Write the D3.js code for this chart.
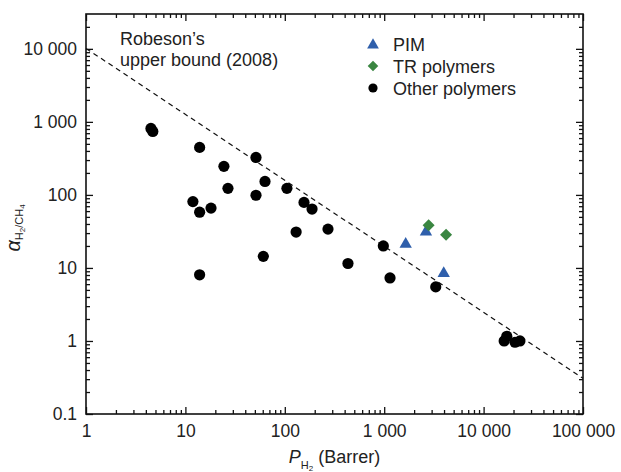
<!DOCTYPE html>
<html>
<head>
<meta charset="utf-8">
<script src="https://cdn.jsdelivr.net/npm/d3@7"></script>
<style>
  body { margin: 0; background: #fff; }
  text { font-family: "Liberation Sans", Arial, sans-serif; fill: #222; }
</style>
</head>
<body>
<div id="chart"></div>
<script>
// H2 permeability (Barrer) and H2/CH4 selectivity
const otherP = [4.5, 4.7, 13.9, 24.4, 26.8, 11.9, 13.9, 18.1, 51.3, 51.3, 63.2, 105, 156, 188, 130,
  13.9, 60.8, 272, 432, 980, 1144, 3300, 16100, 17100, 20700, 23200]
const otherA = [813, 740, 447, 246, 123, 81, 58, 66, 326, 99, 153, 123, 79, 64, 31,
  8.05, 14.4, 34, 11.5, 20, 7.3, 5.5, 1.0, 1.16, 0.96, 1.0]
const pimP = [1645, 2630, 3970]
const pimA = [21.8, 32.1, 8.7]
const trP = [2800, 4190]
const trA = [38.4, 28.5]

// Robeson 2008 H2/CH4 upper bound: P = k * alpha^n
const robK = 27200
const robN = -1.107
const boundP = [1, 100000]

const xTicks = [1, 10, 100, 1000, 10000, 100000]
const xTickLabels = ['1', '10', '100', '1 000', '10 000', '100 000']
const yTicks = [0.1, 1, 10, 100, 1000, 10000]
const yTickLabels = ['0.1', '1', '10', '100', '1 000', '10 000']

const legendItems = ['PIM', 'TR polymers', 'Other polymers']

const width = 621
const height = 472
const margin = {top: 14, right: 38, bottom: 58, left: 86}
const blue = '#2f5fab'
const green = '#3a8641'

const svg = d3.select('#chart').append('svg')
  .attr('width', width)
  .attr('height', height)

const x = d3.scaleLog().domain([1, 100000]).range([margin.left, width - margin.right])
const y = d3.scaleLog().domain([0.1, 30000]).range([height - margin.bottom, margin.top])

const minors = (lo, hi) => {
  const out = []
  for (let e = Math.floor(Math.log10(lo)); e <= Math.ceil(Math.log10(hi)); e++) {
    for (let m = 2; m <= 9; m++) {
      const v = m * Math.pow(10, e)
      if (v > lo && v < hi) out.push(v)
    }
  }
  return out
}
const xMinor = minors(1, 100000)
const yMinor = minors(0.1, 30000)

const x0 = x.range()[0], x1 = x.range()[1]
const y0 = y.range()[0], y1 = y.range()[1]

function drawAxis(axisFn, scale, pos, major, minor, labels, pad) {
  const g = svg.append('g').attr('transform', pos)
  g.call(axisFn(scale).tickValues(major).tickSizeInner(-7).tickSizeOuter(0).tickPadding(pad)
    .tickFormat(labels ? (d, i) => labels[i] : ''))
  const gm = svg.append('g').attr('transform', pos)
  gm.call(axisFn(scale).tickValues(minor).tickSizeInner(-4).tickSizeOuter(0).tickFormat(''))
  ;[g, gm].forEach(a => {
    a.select('.domain').remove()
    a.selectAll('.tick line').attr('stroke', '#111').attr('stroke-width', 1.3)
    a.selectAll('text').style('font-size', '17.5px').attr('fill', '#222')
  })
}

drawAxis(d3.axisBottom, x, `translate(0,${y0})`, xTicks, xMinor, xTickLabels, 11)
drawAxis(d3.axisTop, x, `translate(0,${y1})`, xTicks, xMinor, null, 0)
drawAxis(d3.axisLeft, y, `translate(${x0},0)`, yTicks, yMinor, yTickLabels, 9)
drawAxis(d3.axisRight, y, `translate(${x1},0)`, yTicks, yMinor, null, 0)

svg.append('rect')
  .attr('x', x0).attr('y', y1)
  .attr('width', x1 - x0).attr('height', y0 - y1)
  .attr('fill', 'none').attr('stroke', '#111').attr('stroke-width', 1.6)

// upper bound line
const boundPts = boundP.map(p => [p, Math.pow(p / robK, 1 / robN)])
svg.append('path')
  .datum(boundPts)
  .attr('d', d3.line().x(d => x(d[0])).y(d => y(d[1])))
  .attr('fill', 'none')
  .attr('stroke', '#111')
  .attr('stroke-width', 1.2)
  .attr('stroke-dasharray', '5,4')

svg.append('text').attr('x', 120).attr('y', 45).style('font-size', '18px').text('Robeson’s')
svg.append('text').attr('x', 120).attr('y', 66).style('font-size', '18px').text('upper bound (2008)')

const circle = d3.symbol().type(d3.symbolCircle)
const tri = d3.symbol().type(d3.symbolTriangle)
const diamond = d3.symbol().type(d3.symbolSquare)

svg.append('g').selectAll('path')
  .data(d3.zip(otherP, otherA))
  .join('path')
  .attr('transform', d => `translate(${x(d[0])},${y(d[1])})`)
  .attr('d', circle.size(Math.PI * 5.6 * 5.6))
  .attr('fill', '#000')

svg.append('g').selectAll('path')
  .data(d3.zip(pimP, pimA))
  .join('path')
  .attr('transform', d => `translate(${x(d[0])},${y(d[1]) + 1})`)
  .attr('d', tri.size(66))
  .attr('fill', blue)

svg.append('g').selectAll('path')
  .data(d3.zip(trP, trA))
  .join('path')
  .attr('transform', d => `translate(${x(d[0])},${y(d[1])}) rotate(45)`)
  .attr('d', diamond.size(72))
  .attr('fill', green)

// legend
const legend = svg.append('g')
const legMarks = [
  {d: tri.size(60)(), fill: blue, rot: 0, dy: 1},
  {d: diamond.size(56)(), fill: green, rot: 45, dy: 0},
  {d: circle.size(Math.PI * 4.6 * 4.6)(), fill: '#000', rot: 0, dy: 0}
]
legendItems.forEach((name, i) => {
  const cy = 44 + i * 22
  legend.append('path')
    .attr('d', legMarks[i].d)
    .attr('transform', `translate(373,${cy + legMarks[i].dy}) rotate(${legMarks[i].rot})`)
    .attr('fill', legMarks[i].fill)
  legend.append('text')
    .attr('x', 393).attr('y', cy + 6.5)
    .style('font-size', '18px')
    .text(name)
})

// axis titles
const xt = svg.append('text')
  .attr('x', (x0 + x1) / 2).attr('y', 463)
  .attr('text-anchor', 'middle')
  .style('font-size', '18px')
xt.append('tspan').style('font-style', 'italic').text('P')
xt.append('tspan').attr('dy', 6).style('font-size', '11px').text('H')
xt.append('tspan').attr('dy', 2).style('font-size', '8px').text('2')
xt.append('tspan').attr('dy', -8).text(' (Barrer)')

const yt = svg.append('text')
  .attr('transform', 'translate(20,228) rotate(-90)')
  .attr('text-anchor', 'middle')
  .style('font-size', '20px')
yt.append('tspan').style('font-style', 'italic').text('α')
yt.append('tspan').attr('dy', 3).style('font-size', '11px').text('H')
yt.append('tspan').attr('dy', 2).style('font-size', '8px').text('2')
yt.append('tspan').attr('dy', -2).style('font-size', '11px').text('/CH')
yt.append('tspan').attr('dy', 2).style('font-size', '8px').text('4')
</script>
</body>
</html>
